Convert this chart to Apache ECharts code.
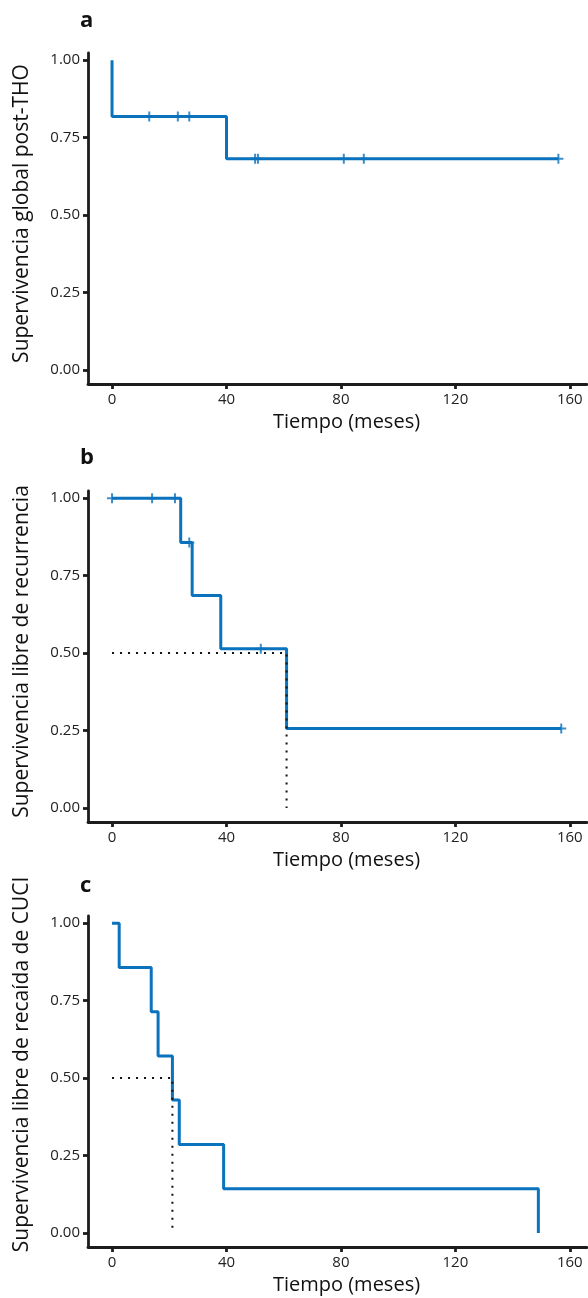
<!DOCTYPE html>
<html><head><meta charset="utf-8">
<script src="https://cdn.jsdelivr.net/npm/echarts@6/dist/echarts.min.js"></script>
<style>html,body{margin:0;padding:0;background:#fff}#c{width:588px;height:1298px}</style>
</head><body><div id="c"></div>
<script>
// ---- data ----
const xTicks = [0, 40, 80, 120, 160];
const yTicks = [0, 0.25, 0.5, 0.75, 1];
const panelLetters = ['a', 'b', 'c'];
const yTitles = ['Supervivencia global post-THO', 'Supervivencia libre de recurrencia', 'Supervivencia libre de recaída de CUCI'];
const xTitle = 'Tiempo (meses)';
// Kaplan-Meier step points: time (months) and survival after that time
const aTimes = [0, 0, 40, 156];
const aSurv = [1, 0.818, 0.682, 0.682];
const aCensor = [13, 23, 27, 50, 51, 81, 88, 156];
const aMedian = null;
const bTimes = [0, 24, 28, 38, 61, 157];
const bSurv = [1, 0.857, 0.686, 0.514, 0.257, 0.257];
const bCensor = [0, 14, 22, 27, 52, 157];
const bMedian = 61;
const cTimes = [0, 2.5, 13.7, 16.1, 21.1, 23.5, 39, 149];
const cSurv = [1, 0.857, 0.714, 0.571, 0.429, 0.286, 0.143, 0];
const cCensor = [];
const cMedian = 21.1;

// ---- layout ----
const FONT = 'Open Sans';
const BLUE = '#0b72bd';
const AX = '#1c1c1c';
const tops = [53, 491, 916];
const H = 331, L = 88, W = 499;
const titleShift = [10, 10, 34];
const panels = [
  {t: aTimes, s: aSurv, c: aCensor, m: aMedian},
  {t: bTimes, s: bSurv, c: bCensor, m: bMedian},
  {t: cTimes, s: cSurv, c: cCensor, m: cMedian}
];
function survAt(p, x) {
  let v = p.s[0];
  for (let i = 0; i < p.t.length; i++) if (p.t[i] <= x) v = p.s[i];
  return v;
}
const plus = 'path://M4,0H6V4H10V6H6V10H4V6H0V4H4Z';
const grid = [], xAxis = [], yAxis = [], series = [], graphic = [];
const letterY = [25, 462, 890];
panels.forEach((p, i) => {
  grid.push({left: L, top: tops[i], width: W, height: H});
  xAxis.push({
    type: 'value', gridIndex: i, min: -8.4, max: 166,
    axisLine: {onZero: false, lineStyle: {color: AX, width: 2.8}},
    axisTick: {customValues: xTicks, length: 5, lineStyle: {color: AX, width: 2.8}},
    axisLabel: {customValues: xTicks, fontSize: 15, fontFamily: FONT, color: '#222', margin: 8},
    splitLine: {show: false},
    name: xTitle, nameLocation: 'middle', nameGap: 28,
    nameTextStyle: {fontSize: 20, fontFamily: FONT, color: '#111', padding: [0, 0, 0, 18]}
  });
  yAxis.push({
    type: 'value', gridIndex: i, min: -0.045, max: 1.023,
    axisLine: {show: true, onZero: false, lineStyle: {color: AX, width: 2.8}},
    axisTick: {show: true, customValues: yTicks, length: 5, lineStyle: {color: AX, width: 2.8}},
    axisLabel: {customValues: yTicks, fontSize: 15, fontFamily: FONT, color: '#222', margin: 8,
      formatter: v => v.toFixed(2)},
    splitLine: {show: false},
    name: yTitles[i], nameLocation: 'middle', nameGap: 55,
    nameTextStyle: {fontSize: 21, fontFamily: FONT, color: '#111', padding: [0, 0, 0, titleShift[i]]}
  });
  series.push({
    type: 'line', xAxisIndex: i, yAxisIndex: i, step: 'end', symbol: 'none',
    lineStyle: {color: BLUE, width: 3}, z: 2,
    data: p.t.map((t, k) => [t, p.s[k]])
  });
  if (p.c.length) series.push({
    type: 'scatter', xAxisIndex: i, yAxisIndex: i, symbol: plus, symbolSize: [10, 10],
    itemStyle: {color: BLUE}, z: 3,
    data: p.c.map(t => [t, survAt(p, t)])
  });
  if (p.m !== null) series.push({
    type: 'line', xAxisIndex: i, yAxisIndex: i, symbol: 'none', z: 4,
    lineStyle: {color: '#111', width: 2, type: [2, 6]},
    data: [[0, 0.5], [p.m, 0.5], [p.m, 0]]
  });
  graphic.push({type: 'text', left: 80, top: letterY[i] - 15,
    style: {text: panelLetters[i], font: 'bold 22px "Open Sans"', fill: '#111'}});
});
const chart = echarts.init(document.getElementById('c'), null, {renderer: 'canvas'});
chart.setOption({animation: false, grid, xAxis, yAxis, series, graphic});
</script></body></html>
